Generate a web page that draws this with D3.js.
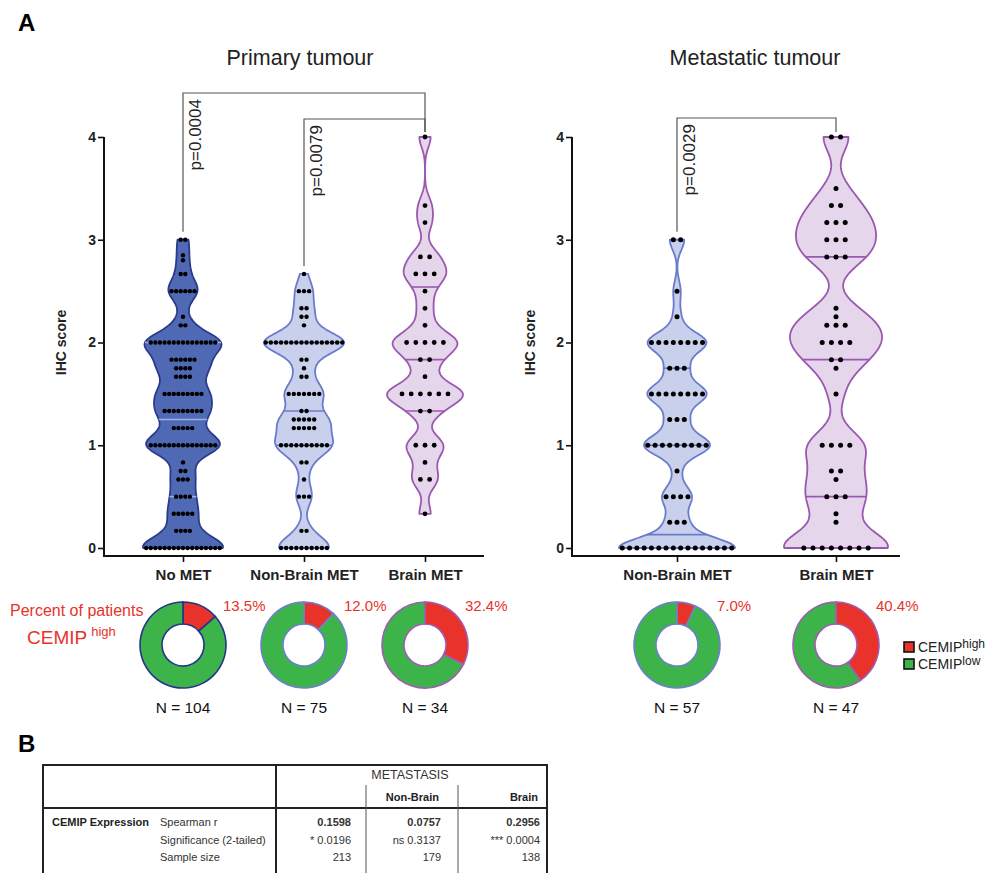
<!DOCTYPE html>
<html>
<head>
<meta charset="utf-8">
<script src="https://cdn.jsdelivr.net/npm/d3@7"></script>
<style>
  body { margin: 0; background: #fff; }
  svg { font-family: "Liberation Sans", Arial, sans-serif; }
</style>
</head>
<body>
<svg id="fig" width="1000" height="873"></svg>
<script>
// ---- values ----
var primaryGroups = ['No MET', 'Non-Brain MET', 'Brain MET'];
var metaGroups = ['Non-Brain MET', 'Brain MET'];
var yTicks = [0, 1, 2, 3, 4];

// IHC score -> number of patients with that score
var noMetValues = [0, 0.167, 0.333, 0.5, 0.667, 0.75, 0.833, 1, 1.167, 1.333, 1.5, 1.667, 1.75, 1.833, 2, 2.167, 2.25, 2.5, 2.667, 2.8, 2.85, 3];
var noMetCounts = [17, 4, 5, 4, 3, 2, 1, 15, 5, 9, 9, 4, 4, 6, 15, 2, 1, 6, 2, 1, 1, 2];

var nonBrainPrimValues = [0, 0.167, 0.5, 0.667, 0.833, 1, 1.167, 1.25, 1.333, 1.5, 1.667, 1.75, 1.833, 2, 2.167, 2.25, 2.333, 2.5, 2.667];
var nonBrainPrimCounts = [10, 2, 3, 1, 2, 10, 5, 5, 2, 7, 2, 1, 2, 16, 1, 2, 2, 3, 1];

var brainPrimValues = [0.333, 0.667, 0.833, 1, 1.333, 1.5, 1.667, 1.833, 2, 2.167, 2.333, 2.5, 2.667, 2.833, 3.167, 3.333, 4];
var brainPrimCounts = [1, 2, 1, 3, 2, 6, 1, 2, 5, 1, 1, 1, 3, 2, 1, 1, 1];

var nonBrainMetValues = [0, 0.25, 0.5, 0.75, 1, 1.25, 1.5, 1.75, 2, 2.25, 2.5, 3];
var nonBrainMetCounts = [16, 3, 4, 1, 9, 3, 8, 3, 8, 1, 1, 2];

var brainMetValues = [0, 0.25, 0.333, 0.5, 0.667, 0.75, 1, 1.5, 1.75, 1.833, 2, 2.167, 2.25, 2.333, 2.833, 3, 3.167, 3.333, 3.5, 4];
var brainMetCounts = [8, 1, 1, 3, 1, 2, 4, 1, 1, 2, 4, 3, 1, 1, 3, 3, 3, 2, 1, 2];

// quartile lines drawn in the violins [Q1, median, Q3]
var noMetQuartiles = [0.5, 1.25, 2.0];
var nonBrainPrimQuartiles = [1.0, 1.333, 2.0];
var brainPrimQuartiles = [1.333, 1.833, 2.54];
var nonBrainMetQuartiles = [0.13, 1.0, 1.75];
var brainMetQuartiles = [0.5, 1.833, 2.833];

var pValues = ['p=0.0004', 'p=0.0079', 'p=0.0029'];

// donuts
var cemipHighPct = [13.5, 12.0, 32.4, 7.0, 40.4];
var patientsN = [104, 75, 34, 57, 47];

// table B
var tableHeader = ['Non-Brain', 'Brain'];
var tableRowLabels = ['Spearman r', 'Significance (2-tailed)', 'Sample size'];
var spearmanR = ['0.1598', '0.0757', '0.2956'];
var significance = ['* 0.0196', 'ns 0.3137', '*** 0.0004'];
var sampleSize = ['213', '179', '138'];

// ---- drawing ----
var svg = d3.select('#fig');
var yScale = d3.scaleLinear().domain([0, 4]).range([548, 137]);
var axisY = 556;

var styles = {
  noMet:    {fill: '#5069b4', stroke: '#2a3b8d', qline: '#9fb0e4', ring: '#24358a'},
  nonBrain: {fill: '#c9d0ec', stroke: '#6a7bcb', qline: '#6a7bcb', ring: '#6f7fd0'},
  brain:    {fill: '#e6d6ec', stroke: '#9a58af', qline: '#9a58af', ring: '#a05cb4'}
};
var red = '#e8322a', green = '#3cb44a';

function expand(values, counts) {
  var out = [];
  values.forEach(function(v, i) { d3.range(counts[i]).forEach(function() { out.push(v); }); });
  return out;
}

function kde(sample, bw) {
  return function(y) {
    return d3.sum(sample, function(v) { var u = (y - v) / bw; return Math.exp(-0.5 * u * u); });
  };
}

var panels = [
  {
    title: 'Primary tumour', titleX: 300, labelX: 66,
    groups: primaryGroups, axisX: [104, 484], points: [183, 425],
    violins: [
      {values: noMetValues, counts: noMetCounts, quart: noMetQuartiles, style: styles.noMet, bw: 0.1, maxW: 40, gap: 4.6, r: 2.2},
      {values: nonBrainPrimValues, counts: nonBrainPrimCounts, quart: nonBrainPrimQuartiles, style: styles.nonBrain, bw: 0.1, maxW: 40, gap: 5.1, r: 2.2},
      {values: brainPrimValues, counts: brainPrimCounts, quart: brainPrimQuartiles, style: styles.brain, bw: 0.1, maxW: 38, gap: 9.2, r: 2.4}
    ],
    brackets: [{a: 0, b: 2, top: 93, p: pValues[0]}, {a: 1, b: 2, top: 119, p: pValues[1]}]
  },
  {
    title: 'Metastatic tumour', titleX: 755, labelX: 535,
    groups: metaGroups, axisX: [572, 900], points: [677, 836],
    violins: [
      {values: nonBrainMetValues, counts: nonBrainMetCounts, quart: nonBrainMetQuartiles, style: styles.nonBrain, bw: 0.1, maxW: 58, gap: 7.3, r: 2.5},
      {values: brainMetValues, counts: brainMetCounts, quart: brainMetQuartiles, style: styles.brain, bw: 0.15, maxW: 52, gap: 9.2, r: 2.5}
    ],
    brackets: [{a: 0, b: 1, top: 118, p: pValues[2]}]
  }
];

var donutCenters = [];

panels.forEach(function(pn) {
  var g = svg.append('g');
  var x = d3.scalePoint().domain(pn.groups).range(pn.points);

  g.append('text').attr('x', pn.titleX).attr('y', 65).attr('text-anchor', 'middle')
    .style('font-size', '21.5px').style('fill', '#222').text(pn.title);

  // axes
  var ya = g.append('g').attr('transform', 'translate(' + pn.axisX[0] + ',0)')
    .call(d3.axisLeft(yScale).tickValues(yTicks).tickFormat(d3.format('d')).tickSize(6).tickPadding(2));
  ya.select('.domain').remove();
  ya.selectAll('.tick line').attr('stroke', '#111').attr('stroke-width', 1.6);
  ya.selectAll('.tick text').style('font-size', '14px').style('font-weight', 'bold').attr('fill', '#222');

  var xa = g.append('g').attr('transform', 'translate(0,' + axisY + ')')
    .call(d3.axisBottom(x).tickSize(6).tickPadding(7));
  xa.select('.domain').remove();
  xa.selectAll('.tick line').attr('stroke', '#111').attr('stroke-width', 1.6);
  xa.selectAll('.tick text').style('font-size', '15px').style('font-weight', 'bold').attr('fill', '#222');

  g.append('path')
    .attr('d', 'M' + pn.axisX[0] + ',' + yScale(4) + 'V' + axisY + 'H' + pn.axisX[1])
    .attr('fill', 'none').attr('stroke', '#111').attr('stroke-width', 2);

  g.append('text').attr('transform', 'translate(' + pn.labelX + ',' + yScale(2) + ') rotate(-90)')
    .attr('text-anchor', 'middle').style('font-size', '14px').style('font-weight', 'bold')
    .style('fill', '#222').text('IHC score');

  // violins
  pn.violins.forEach(function(v, i) {
    var cx = x(pn.groups[i]);
    donutCenters.push({cx: cx, style: v.style});
    var sample = expand(v.values, v.counts);
    var f = kde(sample, v.bw);
    var lo = d3.min(sample), hi = d3.max(sample);
    var grid = d3.range(301).map(function(k) { return lo + (hi - lo) * k / 300; });
    var dens = grid.map(function(y) { return [y, f(y)]; });
    var w = d3.scaleLinear().domain([0, d3.max(dens, function(d) { return d[1]; })]).range([0, v.maxW]);

    var area = d3.area()
      .y(function(d) { return yScale(d[0]); })
      .x0(function(d) { return cx - w(d[1]); })
      .x1(function(d) { return cx + w(d[1]); });

    g.append('path').datum(dens).attr('d', area)
      .attr('fill', v.style.fill).attr('stroke', v.style.stroke).attr('stroke-width', 1.8)
      .attr('stroke-linejoin', 'round');

    g.selectAll(null).data(v.quart).enter().append('line')
      .attr('x1', function(q) { return cx - w(f(q)); })
      .attr('x2', function(q) { return cx + w(f(q)); })
      .attr('y1', function(q) { return yScale(q); })
      .attr('y2', function(q) { return yScale(q); })
      .attr('stroke', v.style.qline).attr('stroke-width', 1.6);

    var dots = [];
    v.values.forEach(function(val, j) {
      var n = v.counts[j];
      d3.range(n).forEach(function(k) {
        dots.push({y: val, x: cx + (k - (n - 1) / 2) * v.gap});
      });
    });
    g.selectAll(null).data(dots).enter().append('circle')
      .attr('cx', function(d) { return d.x; })
      .attr('cy', function(d) { return yScale(d.y); })
      .attr('r', v.r).attr('fill', '#000');
  });

  // significance brackets
  pn.brackets.forEach(function(b) {
    var xa0 = x(pn.groups[b.a]), xb0 = x(pn.groups[b.b]);
    var ya0 = yScale(d3.max(pn.violins[b.a].values)) - 8;
    var yb0 = yScale(d3.max(pn.violins[b.b].values)) - 5;
    g.append('path').attr('d', 'M' + xa0 + ',' + ya0 + 'V' + b.top + 'H' + xb0 + 'V' + yb0)
      .attr('fill', 'none').attr('stroke', '#555').attr('stroke-width', 1.2);
    g.append('text').attr('transform', 'translate(' + (xa0 + 18) + ',' + (b.top + 6) + ') rotate(-90)')
      .attr('text-anchor', 'end').style('font-size', '17px').style('fill', '#222').text(b.p);
  });
});

// donuts
var pie = d3.pie().sort(null);
var arc = d3.arc().innerRadius(21).outerRadius(43);
var donutY = 645;
donutCenters.forEach(function(dc, i) {
  var g = svg.append('g').attr('transform', 'translate(' + dc.cx + ',' + donutY + ')');
  g.selectAll('path').data(pie([cemipHighPct[i], 100 - cemipHighPct[i]])).enter().append('path')
    .attr('d', arc)
    .attr('fill', function(d, k) { return k === 0 ? red : green; })
    .attr('stroke', dc.style.ring).attr('stroke-width', 1.6);
  g.append('text').attr('x', 40).attr('y', -34).style('font-size', '15px').style('fill', red)
    .text(d3.format('.1f')(cemipHighPct[i]) + '%');
  g.append('text').attr('x', 0).attr('y', 68).attr('text-anchor', 'middle')
    .style('font-size', '15.5px').style('fill', '#111').text('N = ' + patientsN[i]);
});

svg.append('text').attr('x', 10).attr('y', 616).style('font-size', '16px').style('fill', red)
  .text('Percent of patients');
var cem = svg.append('text').attr('x', 27).attr('y', 644).style('font-size', '19px').style('fill', red);
cem.append('tspan').text('CEMIP');
cem.append('tspan').attr('dx', 4).attr('dy', -8).style('font-size', '13px').text('high');

// legend
var legend = svg.append('g').attr('transform', 'translate(904,642)');
[['high', red], ['low', green]].forEach(function(it, i) {
  legend.append('rect').attr('x', 0).attr('y', i * 17).attr('width', 10).attr('height', 10)
    .attr('fill', it[1]).attr('stroke', '#111').attr('stroke-width', 1.6);
  var t = legend.append('text').attr('x', 14).attr('y', i * 17 + 10).style('font-size', '14px').style('fill', '#222');
  t.append('tspan').text('CEMIP');
  t.append('tspan').attr('dy', -4).style('font-size', '12px').text(it[0]);
});

// panel letters
svg.append('text').attr('x', 18).attr('y', 31).style('font-size', '24px').style('font-weight', 'bold').text('A');
svg.append('text').attr('x', 18).attr('y', 752).style('font-size', '24px').style('font-weight', 'bold').text('B');

// table B
var tb = svg.append('g');
var tL = 43, tR = 547, tTop = 765, tDiv = 276, tHead = 808, tBottom = 880;
var colDiv = [366, 458];
var colRight = [351, 441, 540];
tb.append('path').attr('d', 'M' + tL + ',' + tBottom + 'V' + tTop + 'H' + tR + 'V' + tBottom)
  .attr('fill', 'none').attr('stroke', '#222').attr('stroke-width', 2);
tb.append('line').attr('x1', tL).attr('x2', tR).attr('y1', tHead).attr('y2', tHead)
  .attr('stroke', '#222').attr('stroke-width', 2);
tb.append('line').attr('x1', tDiv).attr('x2', tDiv).attr('y1', tTop).attr('y2', tBottom)
  .attr('stroke', '#222').attr('stroke-width', 2);
tb.selectAll(null).data(colDiv).enter().append('line')
  .attr('x1', function(d) { return d; }).attr('x2', function(d) { return d; })
  .attr('y1', 785).attr('y2', tBottom).attr('stroke', '#555').attr('stroke-width', 1);

tb.append('text').attr('x', 410).attr('y', 779).attr('text-anchor', 'middle')
  .style('font-size', '12.5px').style('fill', '#333').text('METASTASIS');
tb.selectAll(null).data(tableHeader).enter().append('text')
  .attr('x', function(d, i) { return colRight[i + 1] - 2; }).attr('y', 801).attr('text-anchor', 'end')
  .style('font-size', '11px').style('font-weight', 'bold').style('fill', '#222').text(function(d) { return d; });

tb.append('text').attr('x', 52).attr('y', 826).style('font-size', '11px').style('font-weight', 'bold')
  .style('fill', '#222').text('CEMIP Expression');
var rows = [spearmanR, significance, sampleSize];
var rowY = [826, 844, 861];
rows.forEach(function(r, i) {
  tb.append('text').attr('x', 160).attr('y', rowY[i]).style('font-size', '11px').style('fill', '#333')
    .text(tableRowLabels[i]);
  tb.selectAll(null).data(r).enter().append('text')
    .attr('x', function(d, k) { return colRight[k]; }).attr('y', rowY[i]).attr('text-anchor', 'end')
    .style('font-size', '11px').style('font-weight', i === 0 ? 'bold' : 'normal').style('fill', '#333')
    .text(function(d) { return d; });
});
</script>
</body>
</html>
